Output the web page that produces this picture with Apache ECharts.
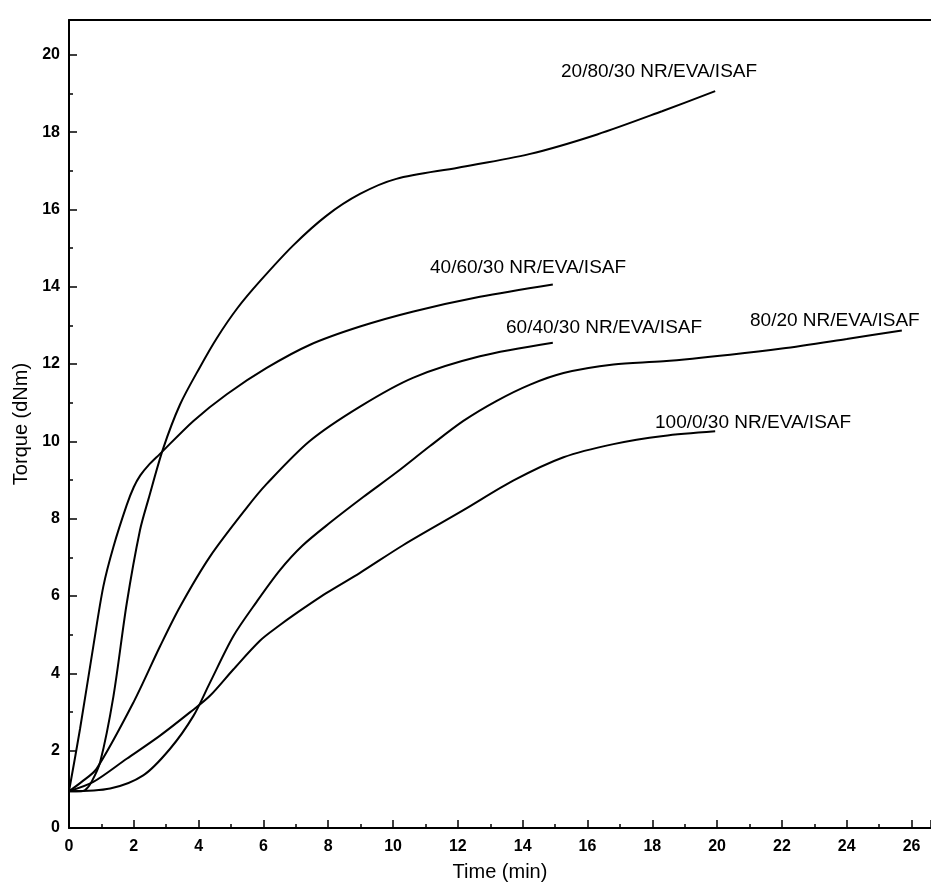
<!DOCTYPE html>
<html>
<head>
<meta charset="utf-8">
<script src="https://cdn.jsdelivr.net/npm/echarts@6/dist/echarts.min.js"></script>
<style>
  html, body { margin: 0; padding: 0; background: #fff; }
  #chart { width: 931px; height: 887px; }
</style>
</head>
<body>
<div id="chart"></div>
<script>
// torque curves, [time (min), torque (dNm)]
const nr20eva80 = [[0,0.95],[0.3,0.95],[0.5,0.98],[0.7,1.2],[0.96,1.7],[1.37,3.4],[1.78,5.8],[2.19,7.7],[2.45,8.5],[2.9,9.8],[3.43,10.96],[4.04,11.92],[4.56,12.67],[5.2,13.45],[5.9,14.15],[6.92,15.07],[7.95,15.84],[8.98,16.4],[10.1,16.79],[12.0,17.08],[14.2,17.43],[16.3,17.94],[18.3,18.54],[19.94,19.06]];
const nr40eva60 = [[0,0.95],[0.34,2.56],[0.75,4.7],[1.06,6.25],[1.37,7.27],[1.78,8.35],[2.0,8.82],[2.2,9.12],[2.45,9.38],[2.8,9.67],[3.84,10.53],[4.87,11.22],[6.1,11.9],[7.44,12.5],[8.98,12.97],[10.63,13.36],[12.68,13.74],[14.93,14.06]];
const nr60eva40 = [[0,0.95],[0.4,1.2],[0.85,1.53],[1.99,3.25],[2.81,4.7],[3.43,5.73],[4.35,7.02],[5.5,8.3],[6.1,8.9],[7.43,10.01],[8.98,10.9],[10.63,11.65],[12.68,12.2],[14.93,12.55]];
const nr80eva20 = [[0,0.95],[1.27,1.02],[2.29,1.36],[3.12,2.05],[3.84,2.9],[4.35,3.76],[5.07,4.96],[5.79,5.85],[6.51,6.67],[7.2,7.3],[8.06,7.9],[9.08,8.56],[10.11,9.2],[11.14,9.88],[12.17,10.53],[13.2,11.05],[14.23,11.47],[15.26,11.77],[16.8,11.99],[18.34,12.07],[20.4,12.24],[22,12.4],[24,12.65],[25.7,12.87]];
const nr100eva0 = [[0,0.95],[0.75,1.19],[1.78,1.79],[2.81,2.39],[3.73,2.99],[4.35,3.42],[5.07,4.1],[5.9,4.85],[6.51,5.25],[6.92,5.5],[7.95,6.08],[8.98,6.6],[10.32,7.32],[12.17,8.22],[13.72,8.99],[15.26,9.59],[16.8,9.93],[18.34,10.14],[19.94,10.26]];

const seriesNames = ['20/80/30 NR/EVA/ISAF', '40/60/30 NR/EVA/ISAF', '60/40/30 NR/EVA/ISAF', '80/20 NR/EVA/ISAF', '100/0/30 NR/EVA/ISAF'];
const seriesData = [nr20eva80, nr40eva60, nr60eva40, nr80eva20, nr100eva0];

const FONT = "'Liberation Sans', Arial, sans-serif";

const chart = echarts.init(document.getElementById('chart'));

// curve labels sit beside the line ends, [left, top] in px
const labelPos = [[561, 62], [430, 258], [506, 318], [750, 311], [655, 413]];

const option = {
  animation: false,
  backgroundColor: '#fff',
  grid: { left: 69, right: 0, top: 20, bottom: 54 },
  xAxis: [
    {
      type: 'value',
      min: 0,
      max: 26.6,
      interval: 2,
      name: 'Time (min)',
      nameLocation: 'middle',
      nameGap: 34,
      nameTextStyle: { color: '#000', fontSize: 20, fontFamily: FONT },
      axisLine: { show: true, onZero: false, lineStyle: { color: '#000', width: 2 } },
      axisTick: { show: true, inside: true, length: 8, lineStyle: { color: '#000', width: 1.5 } },
      minorTick: { show: true, splitNumber: 2, length: 4, lineStyle: { color: '#000', width: 1.5 } },
      axisLabel: { color: '#000', fontSize: 16, fontWeight: 'bold', fontFamily: FONT, margin: 11, showMaxLabel: false },
      splitLine: { show: false }
    },
    {
      type: 'value',
      position: 'top',
      min: 0,
      max: 26.6,
      axisLine: { show: true, onZero: false, lineStyle: { color: '#000', width: 2 } },
      axisTick: { show: false },
      axisLabel: { show: false },
      splitLine: { show: false }
    }
  ],
  yAxis: {
    type: 'value',
    min: 0,
    max: 20.9,
    interval: 2,
    name: 'Torque (dNm)',
    nameLocation: 'middle',
    nameGap: 38,
    nameTextStyle: { color: '#000', fontSize: 20, fontFamily: FONT },
    axisLine: { show: true, onZero: false, lineStyle: { color: '#000', width: 2 } },
    axisTick: { show: true, inside: true, length: 8, lineStyle: { color: '#000', width: 1.5 } },
    minorTick: { show: true, splitNumber: 2, length: 4, lineStyle: { color: '#000', width: 1.5 } },
    axisLabel: { color: '#000', fontSize: 16, fontWeight: 'bold', fontFamily: FONT, margin: 9, showMaxLabel: false },
    splitLine: { show: false }
  },
  series: seriesData.map((d, i) => ({
    name: seriesNames[i],
    type: 'line',
    data: d,
    smooth: 0.3,
    symbol: 'none',
    lineStyle: { color: '#000', width: 2 }
  })),
  graphic: seriesNames.map((name, i) => ({
    type: 'text',
    left: labelPos[i][0],
    top: labelPos[i][1],
    style: { text: name, fill: '#000', fontSize: 19, fontFamily: FONT }
  }))
};

chart.setOption(option);
</script>
</body>
</html>
